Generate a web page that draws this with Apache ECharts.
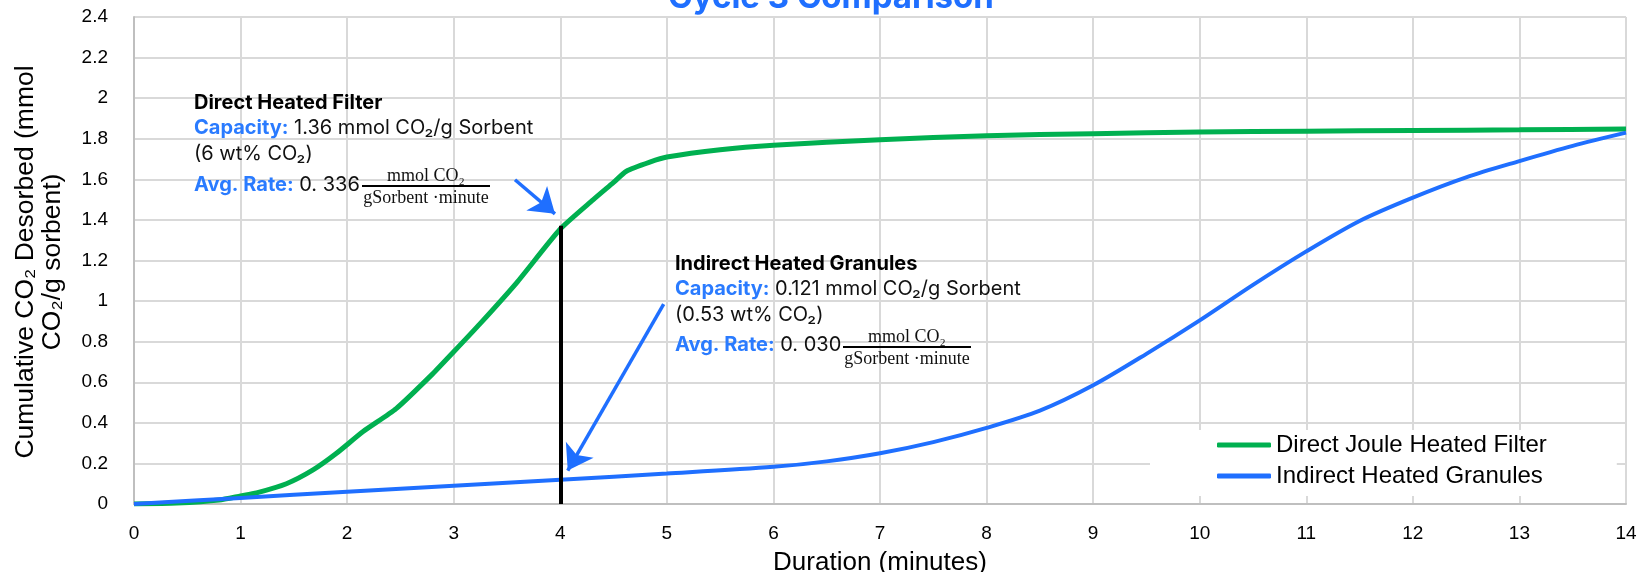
<!DOCTYPE html>
<html><head><meta charset="utf-8">
<script src="https://cdn.jsdelivr.net/npm/echarts@6/dist/echarts.min.js"></script>
<style>html,body{margin:0;padding:0;background:#fff}#c{width:1642px;height:572px}</style>
</head><body><div id="c"></div>
<script>
// ---- data ----
const directTime  = [0, 0.4, 0.8, 1.0, 1.15, 1.43, 1.68, 1.9, 2.15, 2.46, 2.8, 3.0, 3.25, 3.59, 4.0, 4.31, 4.5, 4.62, 4.84, 5.0, 5.5, 6, 7, 8, 9, 10, 11, 12, 13, 14];
const directValue = [0, 0.005, 0.02, 0.04, 0.055, 0.10, 0.168, 0.25, 0.357, 0.47, 0.64, 0.75, 0.89, 1.09, 1.355, 1.50, 1.585, 1.64, 1.685, 1.71, 1.746, 1.768, 1.795, 1.815, 1.825, 1.833, 1.837, 1.841, 1.844, 1.848];
const indirectTime  = [0, 1, 2, 3, 4, 5, 6, 6.5, 7, 7.5, 8, 8.5, 9, 9.5, 10, 10.5, 11, 11.5, 12, 12.5, 13, 13.5, 14];
const indirectValue = [0, 0.03, 0.06, 0.09, 0.12, 0.15, 0.183, 0.21, 0.25, 0.305, 0.375, 0.46, 0.585, 0.74, 0.905, 1.08, 1.245, 1.395, 1.51, 1.61, 1.69, 1.765, 1.83];
const seriesNames = ['Direct Joule Heated Filter', 'Indirect Heated Granules'];
const xRange = [0, 14, 1];
const yRange = [0, 2.4, 0.2];
// annotation anchors in data units
const marker4min = [[4, 1.371], [4, 0]];
const arrowDirect = [[3.575, 1.598], [3.95, 1.43]];
const arrowIndirect = [[4.97, 0.985], [4.07, 0.165]];

const GREEN = '#00b050', BLUE = '#1f6fff', LBLUE = '#2a7bff';
const SANS = "'Liberation Sans', Arial, sans-serif";
const ANN = "Inter, 'Noto Sans', sans-serif";
const SERIF = "'Liberation Serif', 'DejaVu Serif', serif";

const rich = {
  h: {fontFamily: ANN, fontWeight: 'bold', fontSize: 20, fill: '#000'},
  b: {fontFamily: ANN, fontWeight: 'bold', fontSize: 20, fill: LBLUE},
  t: {fontFamily: ANN, fontSize: 20, fill: '#111'}
};
function line(x, y, txt) {
  return {type: 'text', x: x, y: y, silent: true, z: 100,
    style: {text: txt, rich: rich, textAlign: 'left', textVerticalAlign: 'middle'}};
}
function fraction(cx, y) {
  return [
    {type: 'text', x: cx, y: y - 10, silent: true, z: 100, style: {text: 'mmol CO₂', font: '18px ' + SERIF, fill: '#111', textAlign: 'center', textVerticalAlign: 'middle'}},
    {type: 'line', silent: true, z: 100, shape: {x1: cx - 64, y1: y, x2: cx + 64, y2: y}, style: {stroke: '#000', lineWidth: 1.8}},
    {type: 'text', x: cx, y: y + 12, silent: true, z: 100, style: {text: 'gSorbent ·minute', font: '18px ' + SERIF, fill: '#111', textAlign: 'center', textVerticalAlign: 'middle'}}
  ];
}

const chart = echarts.init(document.getElementById('c'), null, {renderer: 'canvas'});
const pair = (ts, vs) => ts.map((t, i) => [t, vs[i]]);

chart.setOption({
  animation: false,
  backgroundColor: '#fff',
  grid: {left: 134, right: 16, top: 17, bottom: 68, containLabel: false, outerBoundsMode: 'none'},
  xAxis: {
    type: 'value', min: xRange[0], max: xRange[1], interval: xRange[2],
    name: 'Duration (minutes)', nameLocation: 'middle', nameGap: 46,
    nameTextStyle: {fontFamily: SANS, fontSize: 26, color: '#000'},
    axisLine: {show: true, onZero: false, lineStyle: {color: '#bfbfbf', width: 2}},
    axisTick: {show: false},
    axisLabel: {fontFamily: SANS, fontSize: 19, color: '#000', margin: 20},
    splitLine: {show: true, lineStyle: {color: '#d9d9d9', width: 2}}
  },
  yAxis: {
    type: 'value', min: yRange[0], max: yRange[1], interval: yRange[2],
    axisLine: {show: true, lineStyle: {color: '#bfbfbf', width: 2}},
    axisTick: {show: false},
    axisLabel: {fontFamily: SANS, fontSize: 19, color: '#000', margin: 26,
      formatter: v => String(parseFloat(v.toFixed(1)))},
    splitLine: {show: true, lineStyle: {color: '#d9d9d9', width: 2}}
  },
  legend: {
    data: seriesNames, orient: 'vertical', left: 1150, top: 430,
    padding: [3, 70, 8, 67], backgroundColor: '#fff',
    icon: 'roundRect', itemWidth: 54, itemHeight: 5, itemGap: 7,
    textStyle: {fontFamily: SANS, fontSize: 24, color: '#000', lineHeight: 24}
  },
  series: [
    {name: seriesNames[0], type: 'line', data: pair(directTime, directValue),
      showSymbol: false, smooth: 0.2, z: 3,
      lineStyle: {color: GREEN, width: 5}, itemStyle: {color: GREEN}},
    {name: seriesNames[1], type: 'line', data: pair(indirectTime, indirectValue),
      showSymbol: false, smooth: 0.3, z: 4,
      lineStyle: {color: BLUE, width: 4}, itemStyle: {color: BLUE},
      markLine: {
        silent: true, animation: false, label: {show: false},
        data: [
          [{coord: marker4min[0], symbol: 'none', lineStyle: {color: '#000', width: 4, type: 'solid'}},
           {coord: marker4min[1], symbol: 'none'}],
          [{coord: arrowDirect[0], symbol: 'none', lineStyle: {color: BLUE, width: 3.5, type: 'solid'}},
           {coord: arrowDirect[1], symbol: 'arrow', symbolSize: 24}],
          [{coord: arrowIndirect[0], symbol: 'none', lineStyle: {color: BLUE, width: 3.5, type: 'solid'}},
           {coord: arrowIndirect[1], symbol: 'arrow', symbolSize: 24}]
        ]
      }}
  ],
  graphic: [
    {type: 'text', x: 831, y: -2, silent: true,
      style: {text: 'Cycle 3 Comparison', font: 'bold 33px ' + ANN, fill: BLUE, textAlign: 'center', textVerticalAlign: 'middle'}},
    {type: 'text', x: 39, y: 262, rotation: Math.PI / 2, silent: true,
      style: {text: 'Cumulative CO₂ Desorbed (mmol\nCO₂/g sorbent)', font: '26.5px ' + SANS, lineHeight: 27, fill: '#000', textAlign: 'center', textVerticalAlign: 'middle'}},
    line(194, 103, '{h|Direct Heated Filter}'),
    line(194, 128, '{b|Capacity:}{t| 1.36 mmol CO₂/g Sorbent}'),
    line(194, 154, '{t|(6 wt% CO₂)}'),
    line(194, 185, '{b|Avg. Rate:}{t| 0. 336}'),
    ...fraction(426, 186),
    line(675, 264, '{h|Indirect Heated Granules}'),
    line(675, 289, '{b|Capacity:}{t| 0.121 mmol CO₂/g Sorbent}'),
    line(675, 315, '{t|(0.53 wt% CO₂)}'),
    line(675, 345, '{b|Avg. Rate:}{t| 0. 030}'),
    ...fraction(907, 347)
  ]
});
</script></body></html>
